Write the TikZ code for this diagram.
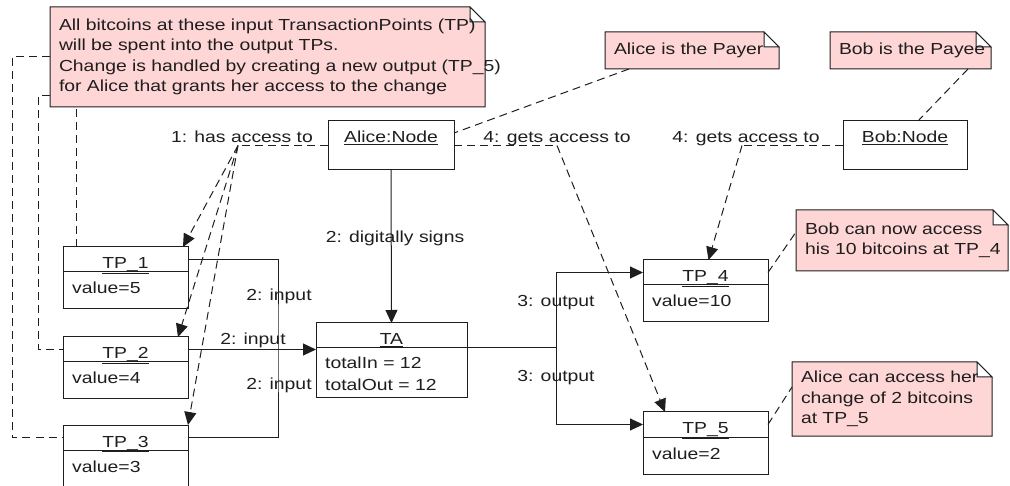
\documentclass[tikz,border=0pt]{standalone}
\usepackage{fontspec}
\setmainfont[FakeStretch=1.21]{Liberation Sans}
\usepackage{xcolor}
\usepackage{tikz}
\usetikzlibrary{arrows.meta, backgrounds, positioning}
\definecolor{notepink}{RGB}{255,214,214}
\definecolor{inkgray}{RGB}{30,30,30}

\begin{document}
\begin{tikzpicture}[x=1pt, y=-1pt,
  every node/.style={font=\fontsize{16}{20.5}\selectfont, text=inkgray},
  objbox/.style={draw=inkgray, fill=white, line width=1pt, inner sep=0pt, outer sep=0pt, anchor=north west},
  note/.style={anchor=north west, inner xsep=0pt, inner ysep=0pt, outer sep=0pt, align=left,
    execute at begin node=\leftskip9pt\rightskip-40pt plus 1fil\relax},
  msg/.style={anchor=base, inner sep=0pt},
  link/.style={draw=inkgray, line width=1pt},
  dashlink/.style={link, dash pattern=on 8pt off 5pt},
  arr/.style={-{Triangle[length=13pt,width=12pt]}}]
\useasboundingbox (0,0) rectangle (1010,486);

% objects
\node[objbox, minimum width=126pt, minimum height=49pt] (alice) at (328,121) {};
\node[msg] (alicename) at ([yshift=-22pt]alice.north) {\underline{Alice:Node}};
\node[objbox, minimum width=124pt, minimum height=49pt] (bob) at (843,121) {};
\node[msg] (bobname) at ([yshift=-22pt]bob.north) {\underline{Bob:Node}};
\node[objbox, minimum width=151pt, minimum height=75pt] (ta) at (316,323) {};
\draw[link] ([yshift=-25pt]ta.north west) -- ([yshift=-25pt]ta.north east);
\node[msg] (taname) at ([yshift=-22pt]ta.north) {\underline{TA}};
\node[msg, anchor=base west] (tain) at ([xshift=9pt,yshift=-46pt]ta.north west) {totalIn = 12};
\node[msg, anchor=base west] (taout) at ([xshift=9pt,yshift=-68pt]ta.north west) {totalOut = 12};
\foreach \n/\x/\y/\v in {1/63/247/5, 2/63/337/4, 3/63/425/3, 4/643/260/10, 5/643/412/2}{
  \node[objbox, minimum width=125pt, minimum height=62pt] (tp\n) at (\x,\y) {};
  \draw[link] ([yshift=-25pt]tp\n.north west) -- ([yshift=-25pt]tp\n.north east);
  \coordinate (tp\n mid) at ([yshift=-12.5pt]tp\n.north);
  \node[msg] (tp\n name) at ([yshift=-22pt]tp\n.north) {\underline{TP\_\n}};
  \node[msg, anchor=base west] (tp\n val) at ([xshift=9pt,yshift=-47pt]tp\n.north west) {value=\v};
}

% notes
\node[note, text width=435pt, minimum height=100pt] (allnote) at (50,7) {All bitcoins at these input TransactionPoints (TP)\\ will be spent into the output TPs.\\ Change is handled by creating a new output (TP\_5)\\ for Alice that grants her access to the change};
\node[note, text width=174pt, minimum height=37pt] (payernote) at (605,32) {Alice is the Payer};
\node[note, text width=161pt, minimum height=37pt] (payeenote) at (830,32) {Bob is the Payee};
\node[note, text width=212pt, minimum height=61pt] (bobnote) at (796,210) {Bob can now access\\ his 10 bitcoins at TP\_4};
\node[note, text width=200pt, minimum height=74pt] (alicenote) at (792,362) {Alice can access her\\ change of 2 bitcoins\\ at TP\_5};
\begin{scope}[on background layer]
\foreach \m in {allnote, payernote, payeenote, bobnote, alicenote}{
  \filldraw[link, fill=notepink] (\m.south west) -- (\m.north west) -- ([xshift=-15pt]\m.north east) -- ([yshift=-15pt]\m.north east) -- (\m.south east) -- cycle;
  \filldraw[link, fill=white] ([xshift=-15pt]\m.north east) |- ([yshift=-15pt]\m.north east) -- cycle;
}
\end{scope}

% inputs and outputs
\coordinate (injoin) at (278,348);
\draw[link] (tp1mid -| tp1.east) -| (injoin) |- (tp3mid -| tp3.east);
\draw[link, arr] (tp2mid -| tp2.east) -- (tp2mid -| ta.west);
\node[msg] (in1) at (279,301) {2: input};
\node[msg] (in2) at (253,345) {2: input};
\node[msg] (in3) at (279,389) {2: input};
\coordinate (outjoin) at (556,348);
\draw[link] (ta.east |- outjoin) -- (outjoin);
\draw[link, arr] (outjoin) |- (tp4mid -| tp4.west);
\draw[link, arr] (outjoin) |- (tp5mid -| tp5.west);
\node[msg] (out1) at (556,307) {3: output};
\node[msg] (out2) at (556,382) {3: output};
\draw[link, arr] (alice.south) -- (ta.north);
\node[msg] (sign) at (395,243) {2: digitally signs};

% access
\coordinate (hasjoin) at (238,145.5);
\draw[dashlink] (alice.west) -- (hasjoin);
\draw[dashlink, arr] (hasjoin) -- ([xshift=-5pt]tp1.north east);
\draw[dashlink, arr] (hasjoin) -- ([xshift=-10pt]tp2.north east);
\draw[dashlink, arr] (hasjoin) -- (tp3.north east);
\node[msg] (has) at (242,143) {1: has access to};
\coordinate (getjoin) at (557,145.5);
\draw[dashlink] (alice.east) -- (getjoin);
\draw[dashlink, arr] (getjoin) -- ([xshift=22pt]tp5.north west);
\node[msg] (get1) at (557,143) {4: gets access to};
\coordinate (bobjoin) at (742,145.5);
\draw[dashlink] (bob.west) -- (bobjoin);
\draw[dashlink, arr] (bobjoin) -- ([xshift=3pt]tp4.north);
\node[msg] (get2) at (746,143) {4: gets access to};

% note links
\draw[dashlink] ([xshift=13pt]tp1.north west) -- ++(0,-140);
\draw[dashlink] ([yshift=11pt]allnote.south west) -- ++(-12,0) |- (tp2mid -| tp2.west);
\draw[dashlink] ([yshift=-50pt]allnote.north west) -- ++(-38,0) |- (tp3mid -| tp3.west);
\draw[dashlink] ([xshift=24pt]payernote.south west) -- ([yshift=-12pt]alice.north east);
\draw[dashlink] ([xshift=-23pt]payeenote.south east) -- ([xshift=13pt]bob.north);
\draw[dashlink] (tp4mid -| tp4.east) -- ([yshift=-22pt]bobnote.north west);
\draw[dashlink] (tp5mid -| tp5.east) -- ([yshift=-25pt]alicenote.north west);
\end{tikzpicture}
\end{document}
